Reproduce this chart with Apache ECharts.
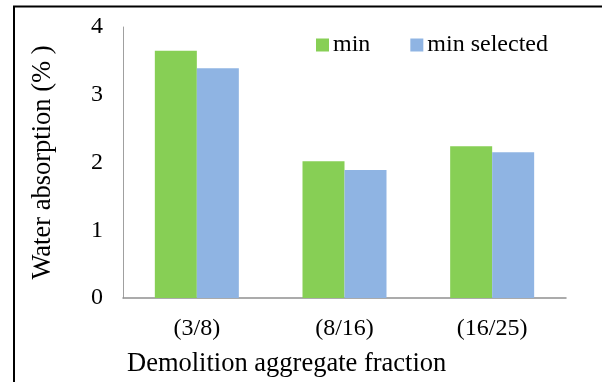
<!DOCTYPE html>
<html>
<head>
<meta charset="utf-8">
<script src="https://cdn.jsdelivr.net/npm/echarts@6/dist/echarts.min.js"></script>
<style>
html,body{margin:0;padding:0;background:#fff;}
#chart{width:602px;height:382px;}
</style>
</head>
<body>
<div id="chart"></div>
<script>
var categories = ['(3/8)', '(8/16)', '(16/25)'];
var minValues = [3.65, 2.02, 2.24];
var minSelectedValues = [3.39, 1.89, 2.15];
var yTicks = [0, 1, 2, 3, 4];
var seriesNames = ['min', 'min selected'];

var FONT = "'Liberation Serif', 'Times New Roman', serif";
var chart = echarts.init(document.getElementById('chart'), null, {renderer: 'canvas'});
chart.setOption({
  animation: false,
  backgroundColor: '#ffffff',
  graphic: [{
    type: 'rect',
    silent: true,
    shape: {x: 14, y: 6.5, width: 700, height: 500},
    style: {fill: 'none', stroke: '#000', lineWidth: 2}
  }],
  title: {
    text: 'Demolition aggregate fraction',
    left: 127,
    top: 351,
    padding: 0,
    textStyle: {fontFamily: FONT, fontSize: 26.5, fontWeight: 'normal', color: '#000'}
  },
  legend: {
    left: 316,
    top: 33,
    padding: 0,
    itemWidth: 13,
    itemHeight: 13,
    itemGap: 40,
    icon: 'rect',
    data: seriesNames,
    textStyle: {fontFamily: FONT, fontSize: 24, color: '#000', padding: [0, 0, 0, -1]}
  },
  grid: {left: 123, top: 27, right: 36, bottom: 84, containLabel: false},
  xAxis: {
    type: 'category',
    data: categories,
    axisLine: {show: true, lineStyle: {color: '#909090', width: 1.5}},
    axisTick: {show: false},
    axisLabel: {fontFamily: FONT, fontSize: 24, color: '#000', margin: 19}
  },
  yAxis: {
    type: 'value',
    min: yTicks[0],
    max: yTicks[yTicks.length - 1],
    interval: 1,
    name: 'Water absorption (% )',
    nameLocation: 'middle',
    nameRotate: 90,
    nameGap: 66,
    nameTextStyle: {fontFamily: FONT, fontSize: 26.5, color: '#000'},
    splitLine: {show: false},
    axisLine: {show: true, lineStyle: {color: '#a0a0a0', width: 1}},
    axisTick: {show: false},
    axisLabel: {fontFamily: FONT, fontSize: 24, color: '#000', margin: 20}
  },
  series: [
    {name: seriesNames[0], type: 'bar', data: minValues, barWidth: 42, barGap: '0%',
     itemStyle: {color: '#87CF55'}},
    {name: seriesNames[1], type: 'bar', data: minSelectedValues, barWidth: 42, barGap: '0%',
     itemStyle: {color: '#8FB4E3'}}
  ]
});
</script>
</body>
</html>
